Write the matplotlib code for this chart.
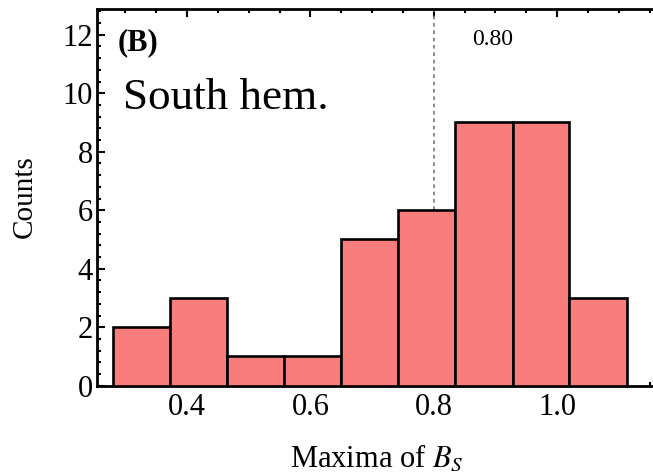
import matplotlib
matplotlib.use("Agg")
import matplotlib.pyplot as plt
from matplotlib.ticker import MultipleLocator
import numpy as np

bin_edges = [0.28, 0.372, 0.465, 0.557, 0.650, 0.742, 0.835, 0.928, 1.020, 1.113]
counts = [2, 3, 1, 1, 5, 6, 9, 9, 3]
threshold = 0.80
threshold_label = "0.80"
xticks = [0.4, 0.6, 0.8, 1.0]
xticklabels = ["0.4", "0.6", "0.8", "1.0"]
yticks = [0, 2, 4, 6, 8, 10, 12]

plt.rcParams['font.family'] = ['Liberation Serif', 'DejaVu Serif']
plt.rcParams['mathtext.fontset'] = 'stix'

fig = plt.figure(figsize=(6.53, 4.76), dpi=100)
xmin, xmax = 0.254, 1.2
ymin, ymax = 0, 12.87
left_px, bottom_px, top_px = 97, 385.7, 9.3
right_px = 187 + (xmax - 0.4) * 616.7
ax = fig.add_axes([left_px / 653, (476 - bottom_px) / 476,
                   (right_px - left_px) / 653, (bottom_px - top_px) / 476])

edges = np.array(bin_edges)
widths = np.diff(edges)
ax.bar(edges[:-1], counts, width=widths, align='edge', color='#FA7D7D',
       edgecolor='black', linewidth=1.9, zorder=3)

ax.vlines(threshold, ymin, ymax, colors='#777777', linestyles=(0, (2.2, 2.2)),
          linewidth=1.2, zorder=2)
ax.text(threshold + 0.096, 11.85, threshold_label, fontsize=17, ha='center', va='center')

ax.set_xlim(xmin, xmax)
ax.set_ylim(ymin, ymax)
ax.set_xticks(xticks)
ax.set_xticklabels(xticklabels)
ax.set_yticks(yticks)
ax.xaxis.set_minor_locator(MultipleLocator(0.05))
ax.yaxis.set_minor_locator(MultipleLocator(0.4))
ax.tick_params(which='both', direction='in', top=True, right=True,
               labelsize=22, width=1.5)
ax.tick_params(axis='x', pad=5)
ax.tick_params(axis='y', pad=3)
ax.tick_params(which='major', length=6)
ax.tick_params(which='minor', length=3)
for s in ax.spines.values():
    s.set_linewidth(2)

fig.text(25 / 653, (476 - 197) / 476, "Counts", fontsize=21, rotation=90,
         ha='center', va='center')
fig.text(377 / 653, (476 - 467) / 476, r"Maxima of $B_S$", fontsize=22,
         ha='center', va='baseline')

ax.text(0.036, 0.912, "(B)", transform=ax.transAxes, fontsize=22,
        fontweight='bold', ha='left', va='center')
ax.text(0.045, 0.765, "South hem.", transform=ax.transAxes, fontsize=32.5,
        ha='left', va='center')

fig.savefig("out.png", dpi=100)
